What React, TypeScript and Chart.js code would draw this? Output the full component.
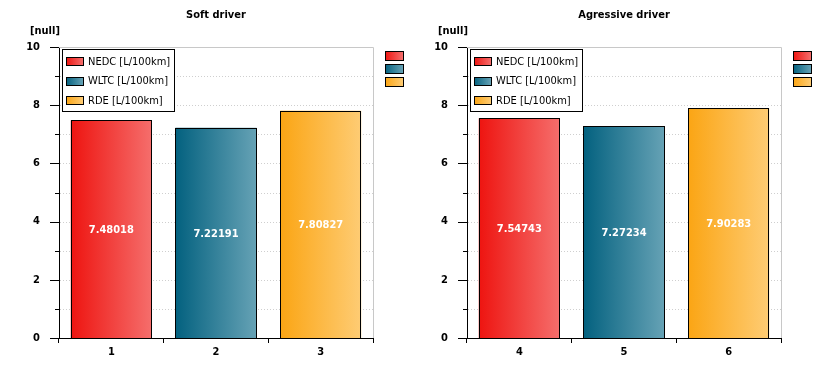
import React, { useEffect, useRef } from 'react';
import { Chart, registerables } from 'chart.js';
Chart.register(...registerables);

const seriesNames = ['NEDC [L/100km]', 'WLTC [L/100km]', 'RDE [L/100km]'];
const titles = ['Soft driver', 'Agressive driver'];
const softLabels = ['1', '2', '3'];
const softValues = [7.48018, 7.22191, 7.80827];
const aggrLabels = ['4', '5', '6'];
const aggrValues = [7.54743, 7.27234, 7.90283];
const yUnit = '[null]';
const yMin = 0;
const yMax = 10;
const yLabelStep = 2;
const gradientStops = [
  ['#ee1410', '#f56e6c'],
  ['#03617f', '#66a2b5'],
  ['#fba514', '#fecc74'],
];

const FONT = '"DejaVu Sans Condensed", "Liberation Sans", sans-serif';
const W = 408;
const H = 382;

function grad(ctx: CanvasRenderingContext2D, x0: number, x1: number, i: number) {
  const g = ctx.createLinearGradient(x0, 0, x1, 0);
  g.addColorStop(0, gradientStops[i][0]);
  g.addColorStop(1, gradientStops[i][1]);
  return g;
}

function makeDecor(title: string) {
  return {
    id: 'decor',
    beforeDatasetsDraw(chart: any) {
      const { ctx, chartArea: a, scales } = chart;
      const ys = scales.y;
      ctx.save();
      ctx.strokeStyle = '#cfcfcf';
      ctx.lineWidth = 1;
      ctx.setLineDash([1, 2]);
      for (let v = yMin + 1; v < yMax; v++) {
        const y = Math.round(ys.getPixelForValue(v)) + 0.5;
        ctx.beginPath();
        ctx.moveTo(a.left + 1, y);
        ctx.lineTo(a.right, y);
        ctx.stroke();
      }
      ctx.setLineDash([]);
      ctx.strokeStyle = '#c8c8c8';
      ctx.beginPath();
      ctx.moveTo(a.left, Math.round(a.top) + 0.5);
      ctx.lineTo(Math.round(a.right) + 0.5, Math.round(a.top) + 0.5);
      ctx.lineTo(Math.round(a.right) + 0.5, a.bottom);
      ctx.stroke();
      ctx.restore();
    },
    afterDatasetsDraw(chart: any) {
      const { ctx } = chart;
      const meta = chart.getDatasetMeta(0);
      ctx.save();
      ctx.strokeStyle = '#000';
      ctx.lineWidth = 1;
      meta.data.forEach((el: any) => {
        const x0 = Math.round(el.x - el.width / 2);
        const x1 = Math.round(el.x + el.width / 2);
        const y0 = Math.round(el.y);
        const y1 = Math.round(el.base);
        ctx.strokeRect(x0 + 0.5, y0 + 0.5, x1 - x0 - 1, y1 - y0);
      });
      ctx.restore();
    },
    afterDraw(chart: any) {
      const { ctx, chartArea: a, scales } = chart;
      const ys = scales.y;
      ctx.save();
      // y tick marks
      ctx.strokeStyle = '#000';
      ctx.lineWidth = 1;
      for (let v = yMin; v <= yMax; v++) {
        const y = Math.round(ys.getPixelForValue(v)) + 0.5;
        const len = v % yLabelStep === 0 ? 9 : 4;
        ctx.beginPath();
        ctx.moveTo(Math.round(a.left) - len, y);
        ctx.lineTo(Math.round(a.left), y);
        ctx.stroke();
      }
      // title
      ctx.fillStyle = '#000';
      ctx.font = 'bold 11px ' + FONT;
      ctx.textAlign = 'center';
      ctx.textBaseline = 'middle';
      ctx.fillText(title, (a.left + a.right) / 2, 15);
      ctx.textAlign = 'left';
      ctx.fillText(yUnit, 30, 31);
      // value labels
      const meta = chart.getDatasetMeta(0);
      ctx.fillStyle = '#fff';
      ctx.textAlign = 'center';
      meta.data.forEach((el: any, i: number) => {
        const v = chart.data.datasets[0].data[i];
        ctx.fillText(String(v), el.x, (el.y + el.base) / 2 + 1);
      });
      // legend box
      const lx = Math.round(a.left) + 3;
      const ly = Math.round(a.top) + 2;
      const lw = 112;
      const lh = 62;
      ctx.fillStyle = '#fff';
      ctx.fillRect(lx, ly, lw, lh);
      ctx.strokeStyle = '#000';
      ctx.strokeRect(lx + 0.5, ly + 0.5, lw, lh);
      ctx.font = '11px ' + FONT;
      ctx.textAlign = 'left';
      seriesNames.forEach((name, i) => {
        const cy = ly + 12 + i * 19.5;
        const sx = lx + 4;
        const sy = Math.round(cy - 4);
        ctx.fillStyle = grad(ctx, sx, sx + 17, i);
        ctx.fillRect(sx, sy, 17, 8);
        ctx.strokeStyle = '#000';
        ctx.strokeRect(sx + 0.5, sy + 0.5, 17, 8);
        ctx.fillStyle = '#000';
        ctx.fillText(name, sx + 22, cy + 1);
      });
      // extra swatches at right
      seriesNames.forEach((_n, i) => {
        const sx = Math.round(a.right) + 12;
        const sy = 51 + i * 13;
        ctx.fillStyle = grad(ctx, sx, sx + 18, i);
        ctx.fillRect(sx, sy, 18, 9);
        ctx.strokeStyle = '#000';
        ctx.strokeRect(sx + 0.5, sy + 0.5, 18, 9);
      });
      ctx.restore();
    },
  };
}

function BarPanel({ labels, values, title, left }: { labels: string[]; values: number[]; title: string; left: number }) {
  const ref = useRef<HTMLCanvasElement | null>(null);
  useEffect(() => {
    if (!ref.current) return;
    const barPct = 0.775;
    const chart = new Chart(ref.current, {
      type: 'bar',
      data: {
        labels,
        datasets: [
          {
            data: values,
            borderWidth: 0,
            categoryPercentage: 1,
            barPercentage: barPct,
            backgroundColor: (c: any) => {
              const ch = c.chart;
              const xs = ch.scales.x;
              if (!ch.chartArea || !xs) return gradientStops[c.dataIndex % 3][0];
              const cx = xs.getPixelForValue(c.dataIndex);
              const w = (xs.width / labels.length) * barPct;
              return grad(ch.ctx, cx - w / 2, cx + w / 2, c.dataIndex % 3);
            },
          },
        ],
      },
      options: {
        responsive: false,
        animation: false,
        devicePixelRatio: 1,
        layout: { padding: { left: 0, top: 47, right: 35, bottom: 0 } },
        plugins: { legend: { display: false }, tooltip: { enabled: false }, title: { display: false } },
        scales: {
          x: {
            type: 'category',
            offset: true,
            grid: { display: true, offset: true, drawOnChartArea: false, drawTicks: true, tickLength: 5, color: '#000' },
            border: { display: true, color: '#000', width: 1 },
            ticks: { color: '#000', font: { family: FONT, size: 11, weight: 'bold' }, padding: 3 },
            afterFit: (s: any) => { s.height = 44; },
          },
          y: {
            min: yMin,
            max: yMax,
            grid: { display: false },
            border: { display: true, color: '#000', width: 1 },
            ticks: { stepSize: yLabelStep, color: '#000', font: { family: FONT, size: 11, weight: 'bold' }, padding: 11 },
            afterFit: (s: any) => { s.width = 59; },
          },
        },
      },
      plugins: [makeDecor(title)],
    } as any);
    return () => chart.destroy();
  }, []);
  return <canvas ref={ref} width={W} height={H} style={{ position: 'absolute', left, top: 0, width: W, height: H }} />;
}

export default function App() {
  return (
    <div style={{ position: 'absolute', left: 0, top: 0, width: 816, height: 382, background: '#fff' }}>
      <BarPanel labels={softLabels} values={softValues} title={titles[0]} left={0} />
      <BarPanel labels={aggrLabels} values={aggrValues} title={titles[1]} left={408} />
    </div>
  );
}
